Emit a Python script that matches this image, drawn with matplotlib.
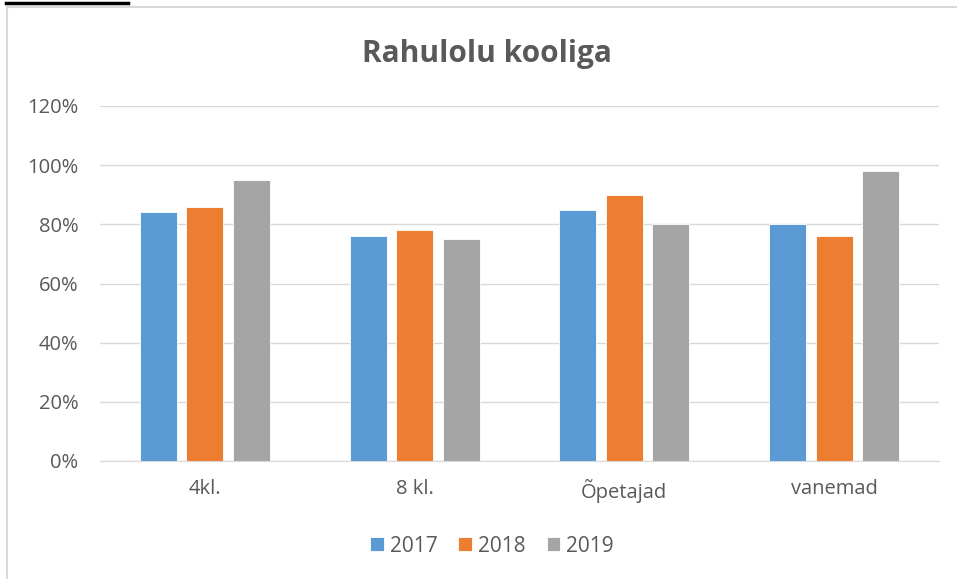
import numpy as np
import matplotlib.pyplot as plt
from matplotlib.patches import Rectangle
from matplotlib.lines import Line2D

categories = ["4kl.", "8 kl.", "Õpetajad", "vanemad"]
years = ["2017", "2018", "2019"]
v2017 = [84, 76, 85, 80]
v2018 = [86, 78, 90, 76]
v2019 = [95, 75, 80, 98]
colors = ["#5B9BD5", "#ED7D31", "#A5A5A5"]
yticks = [0, 20, 40, 60, 80, 100, 120]

plt.rcParams['font.family'] = ['Open Sans', 'DejaVu Sans']
txt = "#595959"

fig = plt.figure(figsize=(9.57, 5.79), dpi=100)
W, H = 957, 579
ax = fig.add_axes([100 / W, 1 - 461 / H, 839 / W, 355 / H])

x = np.arange(len(categories))
step = 0.222
bw = 0.176
for i, (vals, col, lab) in enumerate(zip([v2017, v2018, v2019], colors, years)):
    ax.bar(x + (i - 1) * step, vals, bw, color=col, label=lab,
           edgecolor="white", linewidth=0.6, zorder=3)

ax.set_xlim(-0.5, len(categories) - 0.5)
ax.set_ylim(0, 120)
ax.set_yticks(yticks)
ax.set_yticklabels([f"{t}%" for t in yticks], color=txt, fontsize=14.5)
ax.set_xticks(x)
ax.set_xticklabels(categories, color=txt, fontsize=14.5)
ax.tick_params(axis="both", length=0)
ax.tick_params(axis="y", pad=15.5)
ax.tick_params(axis="x", pad=13)
ax.grid(axis="y", color="#D9D9D9", linewidth=1, zorder=0)
for s in ["top", "right", "left"]:
    ax.spines[s].set_visible(False)
ax.spines["bottom"].set_color("#D9D9D9")

fig.text(487 / W, 1 - 54 / H, "Rahulolu kooliga", ha="center", va="center",
         fontsize=21.5, fontweight="bold", color=txt)

fig.legend(loc="center", bbox_to_anchor=(492 / W, 1 - 546 / H), ncol=3,
           frameon=False, fontsize=15, handlelength=0.65, handleheight=0.65,
           handletextpad=0.3, columnspacing=1.0, labelcolor=txt)

# chart frame and the black mark at top left
fig.patches.append(Rectangle((7 / W, -0.1), 1.1, 1 - 7 / H + 0.1,
                             transform=fig.transFigure, fill=False,
                             edgecolor="#D9D9D9", linewidth=1.5))
fig.lines.append(Line2D([6 / W, 128 / W], [1 - 2.5 / H, 1 - 2.5 / H],
                        transform=fig.transFigure, color="black", linewidth=2.5))

plt.savefig("out.png", dpi=100)
plt.close()
